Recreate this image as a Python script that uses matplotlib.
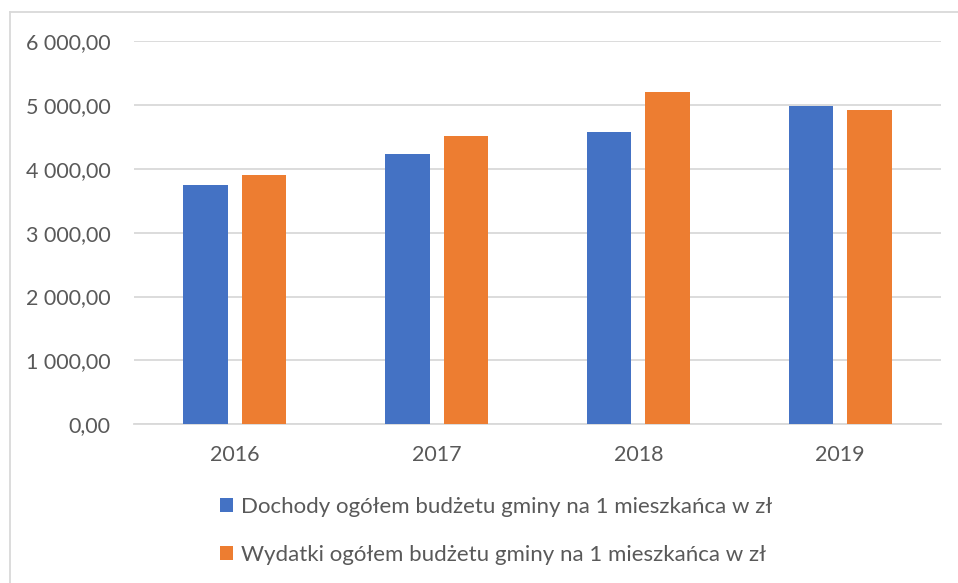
import matplotlib.pyplot as plt
from matplotlib.ticker import FuncFormatter, MultipleLocator
from matplotlib.lines import Line2D
import numpy as np

# -----------------------------
# Data
# -----------------------------
years = ["2016", "2017", "2018", "2019"]
dochody = [3740, 4235, 4570, 4986]
wydatki = [3897, 4516, 5205, 4923]
series_names = [
    "Dochody ogółem budżetu gminy na 1 mieszkańca w zł",
    "Wydatki ogółem budżetu gminy na 1 mieszkańca w zł",
]

plt.rcParams['font.family'] = ['Lato', 'DejaVu Sans']
text_color = '#595959'
grid_color = '#d9d9d9'

# -----------------------------
# Figure
# -----------------------------
fig = plt.figure(figsize=(9.58, 5.83), dpi=100)
ax = fig.add_axes([134 / 958, 158.7 / 583, (941 - 134) / 958, (424.3 - 41) / 583])

x = np.arange(len(years))
width = 0.22
offset = 0.145
ax.bar(x - offset, dochody, width, color='#4472C4', label=series_names[0], zorder=3)
ax.bar(x + offset, wydatki, width, color='#ED7D31', label=series_names[1], zorder=3)

ax.set_xlim(-0.5, len(years) - 0.5)
ax.set_ylim(0, 6000)
ax.yaxis.set_major_locator(MultipleLocator(1000))


def pl_fmt(v, pos):
    s = f"{v:,.2f}"
    return s.replace(",", " ").replace(".", ",")


ax.yaxis.set_major_formatter(FuncFormatter(pl_fmt))
ax.set_xticks(x)
ax.set_xticklabels(years)

ax.grid(axis='y', color=grid_color, linewidth=1.3, zorder=0)
for side in ['top', 'right', 'left']:
    ax.spines[side].set_visible(False)
ax.spines['bottom'].set_color(grid_color)
ax.spines['bottom'].set_linewidth(1.3)
ax.tick_params(axis='both', length=0, labelsize=15.5, colors=text_color)
ax.tick_params(axis='y', pad=17)
ax.tick_params(axis='x', pad=15)

# Legend below the plot
fig.legend(loc='upper left', bbox_to_anchor=(200 / 958, 1 - 477 / 583),
           frameon=False, ncol=1, fontsize=16, labelcolor=text_color,
           handlelength=0.6, handleheight=0.6, handletextpad=0.35,
           labelspacing=1.27)

# Chart border (left and top only visible)
fig.add_artist(Line2D([9.5 / 958, 9.5 / 958], [0, 1 - 12 / 583],
                      transform=fig.transFigure, color=grid_color, lw=1.3))
fig.add_artist(Line2D([9.5 / 958, 1], [1 - 12 / 583, 1 - 12 / 583],
                      transform=fig.transFigure, color=grid_color, lw=1.3))

fig.savefig("out.png", dpi=100)
